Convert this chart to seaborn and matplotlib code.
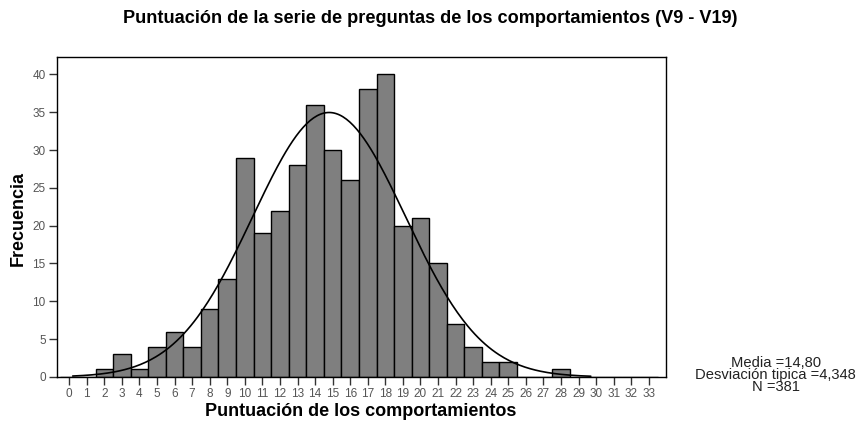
import numpy as np
import pandas as pd
import matplotlib.pyplot as plt
import seaborn as sns

# score values and observed frequencies
scores = list(range(0, 34))
counts = [0, 0, 1, 3, 1, 4, 6, 4, 9, 13, 29, 19, 22, 28, 36, 30, 26, 38, 40, 20,
          21, 15, 7, 4, 2, 2, 0, 0, 1, 0, 0, 0, 0, 0]
media = 14.80
desv = 4.348
n_total = 381
x_ticks = list(range(0, 34))
y_ticks = [0, 5, 10, 15, 20, 25, 30, 35, 40]

df = pd.DataFrame({"score": scores, "count": counts})

sns.set_theme(style="white")
plt.rcParams["font.family"] = ["Liberation Sans", "DejaVu Sans"]
plt.rcParams["text.color"] = "black"

fig = plt.figure(figsize=(8.62, 4.25), dpi=100)
ax = fig.add_axes([0.066, 0.113, 0.707, 0.753])

sns.histplot(data=df, x="score", weights="count", discrete=True,
             color="#7f7f7f", edgecolor="black", linewidth=1.0, alpha=1.0, ax=ax)

# normal curve scaled to N * bin width
xs = np.linspace(0.2, 29.7, 300)
ys = n_total / (desv * np.sqrt(2 * np.pi)) * np.exp(-0.5 * ((xs - media) / desv) ** 2)
sns.lineplot(x=xs, y=ys, color="black", linewidth=1.2, ax=ax)

ax.set_xlim(-0.7, 34.0)
ax.set_ylim(0, 42.3)
ax.set_xticks(x_ticks)
ax.set_yticks(y_ticks)
ax.tick_params(axis="both", direction="out", length=6, width=1, color="#333333",
               labelsize=8.5, labelcolor="#555555", bottom=True, left=True, pad=2)
for s in ax.spines.values():
    s.set_color("black")
    s.set_linewidth(1.0)
ax.set_xlabel("")
ax.set_ylabel("")

fig.text(0.499, 0.957, "Puntuación de la serie de preguntas de los comportamientos (V9 - V19)",
         ha="center", va="center", fontsize=13.1, fontweight="bold", color="black")
fig.text(0.021, 0.487, "Frecuencia", rotation=90, ha="center", va="center",
         fontsize=13, fontweight="bold", color="black")
fig.text(0.418, 0.032, "Puntuación de los comportamientos", ha="center", va="center",
         fontsize=13, fontweight="bold", color="black")
fig.text(0.900, 0.118,
         "Media =%s\nDesviación tipica =%s\nN =%d" % (f"{media:.2f}".replace(".", ","),
                                                      f"{desv:.3f}".replace(".", ","), n_total),
         ha="center", va="center", fontsize=10.6, color="#222222", linespacing=0.82)

plt.savefig("out.png", dpi=100)
